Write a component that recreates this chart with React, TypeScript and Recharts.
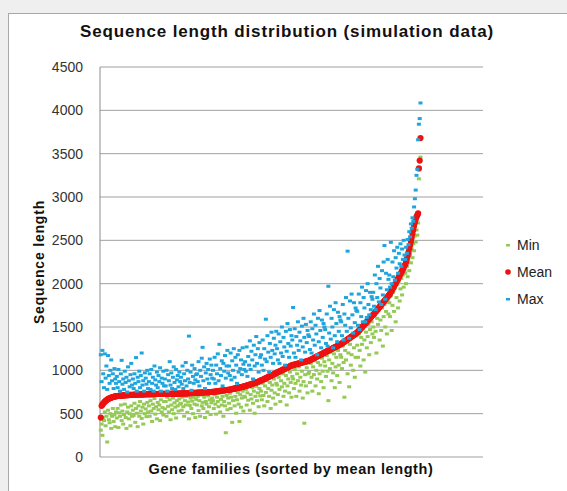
import React from "react"
import { ScatterChart, Scatter, XAxis, YAxis, CartesianGrid } from "recharts"

// gene families are ranked 1..N by mean sequence length; each row below is 20 families
const meanLen = [
  455, 590, 604, 617, 628, 638, 647, 655, 662, 668, 673, 678, 682, 686, 689, 692, 695, 697, 699, 701,
  703, 704, 705, 706, 707, 708, 709, 710, 711, 711, 712, 713, 713, 714, 715, 715, 716, 716, 717, 717,
  718, 718, 719, 719, 720, 720, 720, 721, 721, 721, 722, 722, 722, 723, 723, 723, 724, 724, 724, 724,
  724, 725, 725, 725, 726, 726, 726, 726, 727, 727, 727, 727, 728, 728, 728, 728, 729, 729, 729, 729,
  729, 729, 730, 730, 730, 730, 730, 730, 730, 731, 731, 731, 731, 731, 731, 731, 732, 732, 732, 732,
  732, 733, 733, 734, 734, 734, 735, 735, 736, 736, 737, 737, 737, 738, 738, 739, 739, 740, 740, 741,
  741, 742, 742, 743, 743, 744, 744, 745, 745, 746, 746, 747, 747, 748, 748, 749, 749, 750, 750, 751,
  752, 753, 755, 756, 756, 758, 759, 761, 762, 763, 764, 766, 767, 768, 769, 771, 772, 773, 774, 775,
  776, 778, 779, 782, 784, 785, 788, 790, 791, 794, 796, 797, 800, 802, 804, 806, 808, 810, 813, 815,
  818, 821, 823, 827, 830, 832, 836, 839, 841, 845, 848, 850, 854, 857, 860, 863, 867, 871, 874, 879,
  883, 888, 891, 896, 900, 905, 909, 914, 918, 923, 927, 932, 936, 941, 946, 950, 955, 960, 964, 970,
  974, 979, 983, 988, 992, 996, 1001, 1006, 1010, 1014, 1019, 1024, 1028, 1032, 1037, 1041, 1046, 1051, 1055, 1059,
  1062, 1064, 1067, 1069, 1072, 1074, 1077, 1079, 1082, 1084, 1087, 1089, 1092, 1094, 1097, 1099, 1102, 1104, 1107, 1110,
  1113, 1117, 1122, 1127, 1132, 1136, 1141, 1146, 1151, 1156, 1160, 1165, 1170, 1175, 1180, 1184, 1189, 1194, 1199, 1204,
  1208, 1213, 1218, 1222, 1227, 1232, 1237, 1242, 1246, 1251, 1256, 1261, 1266, 1270, 1275, 1280, 1285, 1290, 1295, 1300,
  1305, 1311, 1318, 1324, 1331, 1337, 1344, 1350, 1357, 1363, 1370, 1376, 1383, 1389, 1396, 1402, 1409, 1416, 1423, 1430,
  1436, 1446, 1456, 1466, 1477, 1487, 1497, 1508, 1518, 1529, 1539, 1550, 1560, 1571, 1581, 1592, 1602, 1613, 1624, 1635,
  1641, 1652, 1663, 1675, 1686, 1698, 1709, 1721, 1732, 1744, 1755, 1767, 1779, 1790, 1802, 1814, 1826, 1837, 1849, 1861,
  1870, 1886, 1903, 1920, 1937, 1954, 1971, 1988, 2005, 2023, 2040, 2058, 2075, 2093, 2111, 2129, 2147, 2166, 2186, 2206,
  2220, 2250, 2285, 2320, 2360, 2400, 2440, 2485, 2530, 2575, 2620, 2665, 2705, 2740, 2770, 2790, 2810, 3330, 3420, 3680,
]

const minLen = [
  310, 380, 250, 455, 420, 520, 360, 470, 173, 540, 430, 395, 500, 330, 470, 560, 410, 485, 350, 520,
  450, 560, 340, 510, 470, 600, 420, 530, 380, 490, 610, 455, 330, 520, 575, 440, 500, 360, 590, 470,
  540, 480, 620, 400, 560, 505, 350, 590, 470, 640, 530, 445, 575, 380, 610, 500, 555, 465, 630, 520,
  590, 470, 650, 530, 410, 610, 560, 675, 495, 580, 440, 630, 545, 600, 420, 660, 520, 570, 485, 640,
  555, 640, 470, 690, 585, 520, 660, 430, 600, 545, 680, 500, 625, 575, 450, 650, 590, 530, 670, 610,
  620, 540, 690, 580, 470, 650, 600, 700, 515, 635, 440, 595, 680, 560, 645, 500, 690, 610, 455, 665,
  600, 700, 535, 650, 470, 715, 590, 630, 560, 690, 455, 640, 610, 520, 705, 580, 660, 490, 625, 680,
  650, 560, 720, 610, 495, 690, 640, 580, 735, 520, 665, 600, 700, 470, 640, 590, 280, 710, 545, 680,
  620, 735, 560, 690, 400, 650, 770, 590, 700, 505, 660, 745, 610, 410, 720, 575, 680, 760, 530, 700,
  690, 780, 600, 740, 655, 810, 540, 720, 670, 800, 620, 760, 505, 700, 815, 650, 740, 580, 790, 705,
  760, 660, 850, 710, 590, 820, 745, 880, 640, 790, 700, 860, 560, 770, 830, 680, 900, 740, 610, 850,
  830, 720, 920, 780, 640, 880, 810, 960, 700, 850, 760, 940, 600, 820, 900, 740, 980, 860, 690, 930,
  900, 790, 1010, 850, 700, 960, 880, 1040, 760, 920, 830, 990, 680, 870, 390, 950, 820, 1030, 740, 960,
  980, 860, 1080, 920, 760, 1040, 950, 1110, 820, 1000, 900, 1090, 730, 960, 1060, 870, 1140, 990, 800, 1100,
  1050, 930, 1170, 990, 650, 1120, 1020, 1210, 880, 1080, 970, 1190, 800, 1040, 1150, 940, 1230, 1060, 860, 1180,
  1150, 1020, 1280, 1090, 690, 1230, 1120, 1340, 960, 1200, 810, 1300, 1060, 1180, 1380, 1000, 1260, 920, 1150, 1400,
  1290, 1150, 1420, 1230, 1050, 1380, 1300, 1480, 1120, 1350, 980, 1440, 1260, 1390, 1530, 1180, 1470, 1320, 1560, 1420,
  1500, 1380, 1640, 1450, 1200, 1600, 1530, 1700, 1350, 1580, 1460, 1720, 1280, 1620, 1760, 1500, 1680, 1420, 1790, 1650,
  1780, 1620, 1860, 1460, 1750, 1900, 1680, 1950, 1560, 1840, 1990, 1720, 2030, 1800, 1940, 2060, 1870, 2100, 1960, 2150,
  2120, 2000, 2200, 2080, 2250, 2150, 2330, 2240, 2400, 2300, 2460, 2380, 2550, 2480, 2620, 2560, 2700, 3210, 3340, 3460,
]

const maxLen = [
  1180, 870, 1230, 960, 800, 1190, 910, 1050, 780, 1170, 940, 850, 1000, 1120, 880, 960, 790, 1020, 900, 850,
  930, 800, 1010, 870, 760, 960, 1115, 840, 900, 780, 990, 860, 920, 750, 1040, 880, 810, 950, 1080, 830,
  900, 790, 960, 850, 1147, 760, 920, 870, 990, 800, 940, 1200, 830, 880, 760, 970, 910, 840, 1000, 790,
  870, 960, 780, 1010, 850, 920, 760, 1050, 890, 830, 980, 800, 940, 870, 1030, 760, 910, 850, 990, 820,
  900, 820, 1000, 760, 950, 880, 1100, 830, 970, 790, 920, 1040, 860, 780, 1010, 890, 940, 810, 980, 870,
  920, 840, 1050, 790, 960, 880, 1090, 820, 1000, 900, 1395, 860, 980, 770, 1060, 930, 850, 1020, 890, 950,
  960, 870, 1100, 820, 1000, 930, 1140, 1265, 880, 1040, 790, 970, 1080, 900, 1010, 850, 1130, 950, 1060, 910,
  1000, 900, 1150, 850, 1060, 960, 1190, 880, 1300, 1020, 940, 1110, 820, 1080, 990, 1170, 910, 1050, 1230, 970,
  1050, 940, 1200, 890, 1110, 1000, 1250, 920, 1150, 1060, 850, 1180, 980, 1230, 1020, 1120, 950, 1260, 1070, 1010,
  1100, 990, 1270, 930, 1160, 1060, 1340, 1010, 1220, 1120, 900, 1290, 1050, 1180, 1390, 1080, 1250, 980, 1320, 1150,
  1180, 1060, 1350, 1000, 1250, 1130, 1590, 1100, 1400, 1210, 980, 1310, 1150, 1440, 1230, 1080, 1370, 1190, 1290, 1450,
  1250, 1120, 1420, 1080, 1330, 1200, 1500, 1160, 1380, 1270, 1060, 1450, 1220, 1540, 1310, 1150, 1470, 1280, 1400, 1350,
  1725, 1200, 1480, 1150, 1390, 1290, 1560, 1230, 1440, 1340, 1120, 1510, 1270, 1600, 1380, 1210, 1530, 1320, 1460, 1410,
  1390, 1240, 1560, 1200, 1480, 1350, 1650, 1290, 1520, 1420, 1180, 1600, 1330, 1690, 1460, 1260, 1580, 1380, 1540, 1500,
  1470, 1310, 1650, 1280, 1970, 1430, 1740, 1360, 1600, 1500, 1260, 1700, 1400, 1780, 1540, 1330, 1670, 1450, 1620, 1580,
  1560, 1400, 1760, 1350, 1650, 1520, 1840, 1450, 2375, 1600, 1370, 1800, 1490, 1880, 1640, 1430, 1780, 1550, 1720, 1690,
  1680, 1520, 1880, 1470, 1780, 1620, 1960, 1560, 1840, 1720, 1560, 1920, 1610, 2000, 1760, 1640, 1900, 1700, 1850, 1820,
  1900, 1740, 2100, 1700, 2000, 1840, 2200, 1790, 2060, 1950, 1760, 2150, 1870, 2250, 2440, 1820, 2120, 1930, 2280, 2050,
  2100, 1960, 2477, 2000, 2250, 2080, 2380, 2040, 2300, 2180, 2420, 2120, 2350, 2230, 2460, 2200, 2400, 2280, 2500, 2330,
  2280, 2420, 2350, 2510, 2450, 2600, 2540, 2690, 2640, 2760, 2720, 2885, 2980, 3080, 3250, 3320, 3660, 3840, 3905, 4085,
]

const yTicks = [0, 500, 1000, 1500, 2000, 2500, 3000, 3500, 4000, 4500]

const MIN_COLOR = "#94ca55"
const MEAN_COLOR = "#ee1111"
const MAX_COLOR = "#1fa5de"
const FONT = "'Liberation Sans', Arial, sans-serif"

const toPoints = (values: number[]) => values.map((v, i) => ({ x: i + 1, y: v }))

const minData = toPoints(minLen)
const meanData = toPoints(meanLen)
const maxData = toPoints(maxLen)

// Excel style small dash marker
const dash = (color: string) => (props: any) => {
  const { cx, cy } = props
  if (cx == null || cy == null) return <g />
  return <rect x={cx - 2} y={cy - 1.5} width={4} height={3} fill={color} />
}

const dot = (props: any) => {
  const { cx, cy } = props
  if (cx == null || cy == null) return <g />
  return <circle cx={cx} cy={cy} r={3.1} fill={MEAN_COLOR} />
}

export default function App() {
  return (
    <div style={{ position: "absolute", left: 0, top: 0, width: 567, height: 491, background: "#efefef", overflow: "hidden" }}>
      <div style={{ position: "absolute", left: 8, top: 13, width: 640, height: 540, background: "#fff", border: "1px solid #a8a8a8" }} />
      <div style={{ position: "absolute", left: 0, top: 0 }}>
        <ScatterChart width={567} height={491} margin={{ top: 67, right: 84, bottom: 34, left: 40 }}>
          <CartesianGrid vertical={false} stroke="#a0a0a0" />
          <XAxis type="number" dataKey="x" domain={[0, 478]} hide />
          <YAxis
            type="number"
            dataKey="y"
            domain={[0, 4500]}
            ticks={yTicks}
            width={60}
            tickSize={0}
            tickMargin={17}
            axisLine={{ stroke: "#8c8c8c" }}
            tickLine={false}
            tick={{ fontSize: 14, fill: "#333", fontFamily: FONT }}
          />
          <Scatter name="Min" data={minData} fill={MIN_COLOR} shape={dash(MIN_COLOR)} isAnimationActive={false} />
          <Scatter name="Mean" data={meanData} fill={MEAN_COLOR} shape={dot} isAnimationActive={false} />
          <Scatter name="Max" data={maxData} fill={MAX_COLOR} shape={dash(MAX_COLOR)} isAnimationActive={false} />
        </ScatterChart>
      </div>
      <svg width={567} height={491} style={{ position: "absolute", left: 0, top: 0, pointerEvents: "none" }}>
        <text x={287} y={37} textAnchor="middle" fontFamily={FONT} fontWeight="bold" fontSize={17} letterSpacing={0.85} fill="#111">
          Sequence length distribution (simulation data)
        </text>
        <text
          transform="translate(39, 262) rotate(-90)"
          textAnchor="middle"
          dominantBaseline="central"
          fontFamily={FONT}
          fontWeight="bold"
          fontSize={14}
          letterSpacing={0.8}
          fill="#111"
        >
          Sequence length
        </text>
        <text x={291} y={474} textAnchor="middle" fontFamily={FONT} fontWeight="bold" fontSize={14.5} letterSpacing={0.6} fill="#111">
          Gene families (sorted by mean length)
        </text>
        <g fontFamily={FONT} fontSize={14} fill="#222">
          <rect x={506} y={244} width={4} height={2.5} fill={MIN_COLOR} />
          <text x={517} y={250}>Min</text>
          <circle cx={508} cy={272} r={2.8} fill={MEAN_COLOR} />
          <text x={517} y={277}>Mean</text>
          <rect x={506} y={298} width={4} height={2.5} fill={MAX_COLOR} />
          <text x={517} y={304}>Max</text>
        </g>
      </svg>
    </div>
  )
}
